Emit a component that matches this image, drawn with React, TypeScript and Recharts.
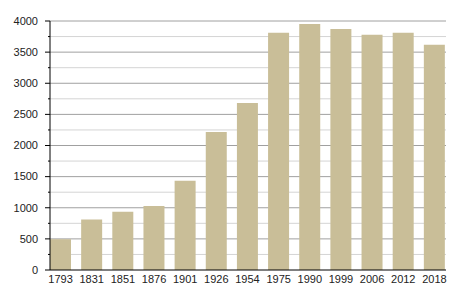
import { Bar, BarChart, CartesianGrid, XAxis, YAxis } from "recharts";

const YEARS = ["1793", "1831", "1851", "1876", "1901", "1926", "1954", "1975", "1990", "1999", "2006", "2012", "2018"];
const POPULATION = [495, 812, 937, 1030, 1432, 2215, 2683, 3810, 3950, 3870, 3780, 3810, 3620];
const MAJOR_TICKS = [0, 500, 1000, 1500, 2000, 2500, 3000, 3500, 4000];
const MINOR_TICKS = [250, 750, 1250, 1750, 2250, 2750, 3250, 3750];
const ALL_TICKS = [...MAJOR_TICKS, ...MINOR_TICKS].sort((a, b) => a - b);

const BAR = "#c9be98";
const FONT = "'Liberation Sans', Arial, sans-serif";

const data = YEARS.map((year, i) => ({ year, value: POPULATION[i] }));

// labels only on the 500s, long tick on the 500s, short tick on the 250s
function YTick(props: any) {
  const { x, y, payload } = props;
  const major = payload.value % 500 === 0;
  return (
    <g>
      <line x1={x - (major ? 5 : 2)} x2={x} y1={y} y2={y} stroke="#000" strokeWidth={1} />
      {major && (
        <text x={x - 12} y={y} dy="0.35em" textAnchor="end" fontSize={11} fontFamily={FONT} fill="#222">
          {payload.value}
        </text>
      )}
    </g>
  );
}

export default function App() {
  return (
    <div style={{ position: "absolute", left: 0, top: 0, background: "#fff" }}>
      <BarChart
        width={455}
        height={300}
        data={data}
        margin={{ top: 21, right: 9, left: 0, bottom: 0 }}
        barCategoryGap={5}
      >
        <CartesianGrid vertical={false} horizontalValues={MINOR_TICKS} stroke="#d4d4d4" />
        <CartesianGrid vertical={false} horizontalValues={MAJOR_TICKS.slice(1)} stroke="#a0a0a0" />
        <XAxis
          dataKey="year"
          interval={0}
          padding={{ left: -5, right: -4 }}
          tickLine={false}
          tickSize={0}
          tickMargin={5}
          axisLine={{ stroke: "#000" }}
          height={30}
          tick={{ fontSize: 11, fontFamily: FONT, fill: "#222" }}
        />
        <YAxis
          domain={[0, 4000]}
          ticks={ALL_TICKS}
          interval={0}
          width={50}
          tickLine={false}
          tickSize={0}
          tickMargin={0}
          axisLine={{ stroke: "#000" }}
          tick={<YTick />}
        />
        <Bar dataKey="value" fill={BAR} isAnimationActive={false} />
      </BarChart>
    </div>
  );
}
